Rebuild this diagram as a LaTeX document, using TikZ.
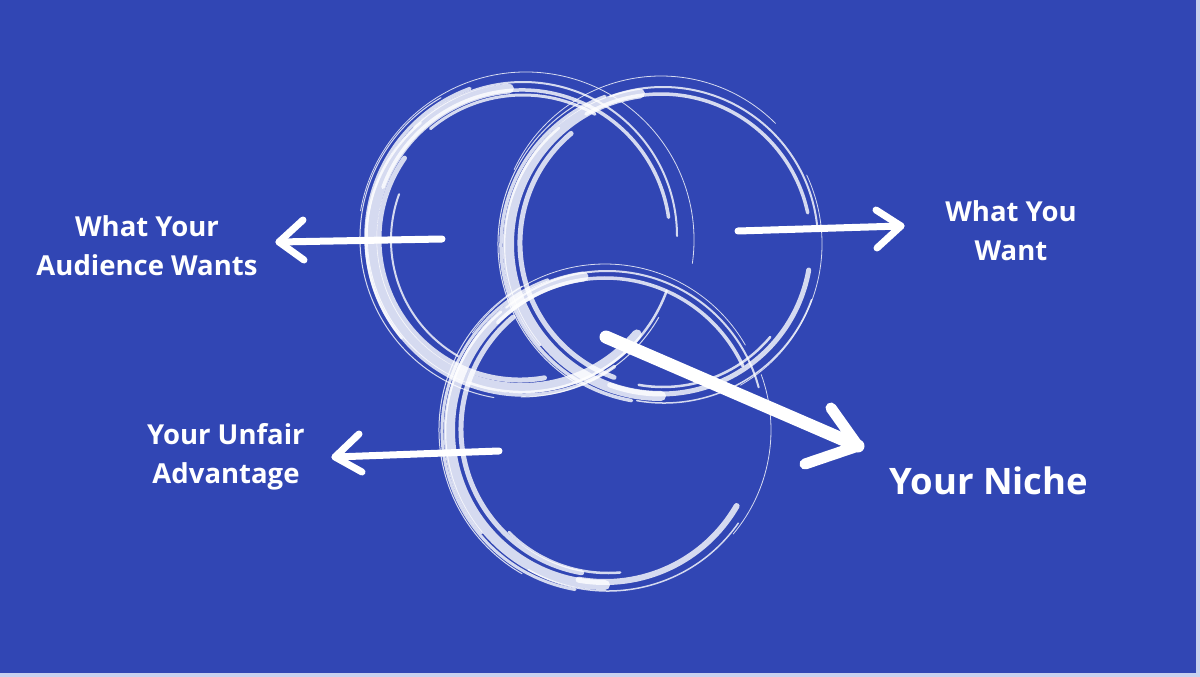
\documentclass[tikz,border=0pt]{standalone}
\usepackage{fontspec}
\setmainfont{Open Sans}
\usetikzlibrary{calc}
\definecolor{bg}{HTML}{3146B4}
\definecolor{frame}{HTML}{C9D2EE}
\begin{document}
\begin{tikzpicture}[x=1pt,y=-1pt,
  ringstroke/.style={draw=white, draw opacity=0.8, line cap=round},
  brush/.style={draw=white, line cap=round, line join=round},
  txt/.style={text=white, font=\bfseries\fontsize{27.5}{39}\selectfont, align=center, inner sep=0pt}]
\fill[frame] (0,0) rectangle (1200,677);
\fill[bg] (0,0) rectangle (1196,673);
\useasboundingbox (0,0) rectangle (1200,677);

% circle centres
\coordinate (cA) at (522,238);
\coordinate (cB) at (661,244);
\coordinate (cC) at (605,430);

% left circle (audience)
\foreach \dx/\dy/\r/\s/\e/\w in {
  0/0/150/40/265/10, 2/-1/158/55/250/3.5, -2/1/141/80/215/5, 0/0/162/100/240/1,
  3/2/134/120/200/2, 0/0/148/200/352/3.5, 1/-2/154/225/360/2, 4/2/168/190/368/0.8,
  0/0/154/20/110/2.5, -1/0/159/30/90/1, -3/2/153/140/230/2.5, 1/1/144/230/300/3}
  \draw[ringstroke, line width=\w] ($(cA)+(\dx,\dy)$) ++(\s:\r) arc[start angle=\s, end angle=\e, radius=\r];

% right circle (you want)
\foreach \dx/\dy/\r/\s/\e/\w in {
  0/0/152/90/262/10, -2/1/158/100/250/3.5, 2/-1/143/110/230/5, 0/0/163/120/240/1,
  0/0/150/240/348/3.5, 2/-2/155/250/355/2, 0/-6/162/205/315/0.8, 0/0/150/10/110/5,
  3/2/157/20/100/1.5, -2/0/163/-25/60/0.8, 2/3/140/40/100/2.5, -3/2/154/140/230/2.5}
  \draw[ringstroke, line width=\w] ($(cB)+(\dx,\dy)$) ++(\s:\r) arc[start angle=\s, end angle=\e, radius=\r];

% bottom circle (unfair advantage)
\foreach \dx/\dy/\r/\s/\e/\w in {
  0/0/155/90/262/10, 0/0/152/30/100/6, -2/1/161/100/250/3, 2/-1/146/100/230/5,
  0/0/166/120/240/1, 0/0/152/225/335/3.5, 2/-2/157/230/345/2, 0/-4/162/215/330/0.8,
  3/2/159/35/120/1.5, 4/0/162/-20/40/0.8, 3/3/140/85/135/2.5, -3/2/157/140/230/2.5}
  \draw[ringstroke, line width=\w] ($(cC)+(\dx,\dy)$) ++(\s:\r) arc[start angle=\s, end angle=\e, radius=\r];

% labels
\node[txt] (aud) at (147,246) {What Your\\Audience Wants};
\node[txt] (want) at (1011,231) {What You\\Want};
\node[txt] (adv) at (226,457) {Your Unfair\\Advantage};
\node[txt, font=\bfseries\fontsize{36.5}{42}\selectfont] (niche) at (989,481) {Your Niche};

% arrow: audience
\coordinate (aT) at (442,239); \coordinate (aH) at (279,242);
\coordinate (aU) at (303,220); \coordinate (aL) at (304,260);
\draw[brush, line width=7] (aT) -- (aH);
\draw[brush, line width=7] (aU) -- (aH) -- (aL);

% arrow: you want
\coordinate (bT) at (738,231); \coordinate (bH) at (901,226);
\coordinate (bU) at (876,210); \coordinate (bL) at (877,248);
\draw[brush, line width=7] (bT) -- (bH);
\draw[brush, line width=7] (bU) -- (bH) -- (bL);

% arrow: unfair advantage
\coordinate (cT) at (499,451); \coordinate (cH) at (335,457);
\coordinate (cU) at (359,434); \coordinate (cL) at (362,472);
\draw[brush, line width=7] (cT) -- (cH);
\draw[brush, line width=7] (cU) -- (cH) -- (cL);

% arrow: niche
\coordinate (dT) at (606,337); \coordinate (dH) at (858,446);
\coordinate (dU) at (831,408); \coordinate (dL) at (805,464);
\draw[brush, line width=13] (dT) -- (dH);
\draw[brush, line width=11] (dU) -- (dH) -- (dL);
\end{tikzpicture}
\end{document}
